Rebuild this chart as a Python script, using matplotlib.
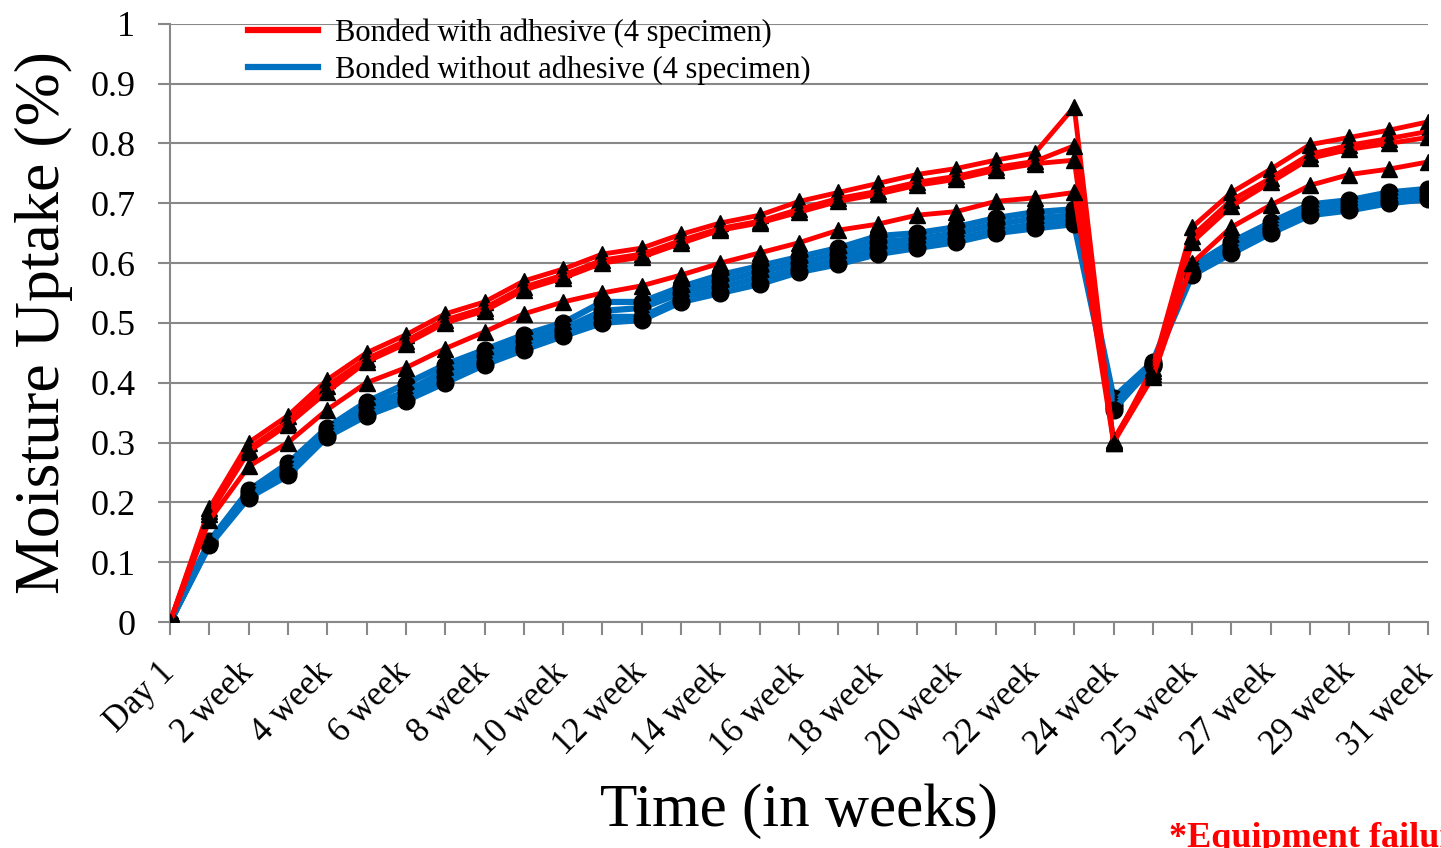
import matplotlib.pyplot as plt
import numpy as np


weeks = ["Day 1"] + [f"{i} week" for i in range(1, 25)] + ["24.5 week"] + [f"{i} week" for i in range(25, 32)]

# bonded with adhesive, 4 specimens
adh_1 = [0, 0.19, 0.30, 0.345, 0.405, 0.45, 0.48, 0.515, 0.535, 0.57, 0.59, 0.615, 0.625,
         0.648, 0.667, 0.68, 0.703, 0.718, 0.733, 0.748, 0.758, 0.772, 0.784, 0.861, 0.30,
         0.425, 0.66, 0.718, 0.757, 0.798, 0.81, 0.822, 0.836]
adh_2 = [0, 0.185, 0.29, 0.335, 0.395, 0.44, 0.47, 0.505, 0.525, 0.56, 0.58, 0.605, 0.615,
         0.638, 0.658, 0.67, 0.69, 0.708, 0.72, 0.735, 0.745, 0.76, 0.77, 0.796, 0.302,
         0.42, 0.645, 0.705, 0.742, 0.782, 0.797, 0.808, 0.82]
adh_3 = [0, 0.18, 0.285, 0.33, 0.385, 0.435, 0.465, 0.50, 0.52, 0.555, 0.575, 0.60, 0.61,
         0.633, 0.655, 0.667, 0.685, 0.703, 0.715, 0.73, 0.74, 0.755, 0.766, 0.772, 0.305,
         0.415, 0.635, 0.695, 0.735, 0.775, 0.79, 0.80, 0.81]
adh_4 = [0, 0.17, 0.26, 0.30, 0.355, 0.40, 0.425, 0.457, 0.485, 0.515, 0.535, 0.55, 0.562,
         0.58, 0.60, 0.617, 0.634, 0.655, 0.665, 0.68, 0.686, 0.703, 0.709, 0.718, 0.30,
         0.41, 0.60, 0.66, 0.697, 0.73, 0.748, 0.757, 0.769]

# bonded without adhesive, 4 specimens
noadh_1 = [0, 0.135, 0.22, 0.265, 0.325, 0.368, 0.398, 0.43, 0.455, 0.48, 0.50, 0.535, 0.535,
           0.56, 0.58, 0.595, 0.61, 0.625, 0.645, 0.65, 0.66, 0.675, 0.685, 0.69, 0.375,
           0.435, 0.595, 0.635, 0.668, 0.698, 0.705, 0.718, 0.724]
noadh_2 = [0, 0.132, 0.215, 0.258, 0.32, 0.36, 0.385, 0.42, 0.445, 0.47, 0.49, 0.52, 0.525,
           0.55, 0.57, 0.585, 0.60, 0.615, 0.635, 0.64, 0.65, 0.665, 0.675, 0.68, 0.365,
           0.432, 0.59, 0.63, 0.66, 0.692, 0.698, 0.712, 0.718]
noadh_3 = [0, 0.13, 0.21, 0.25, 0.315, 0.35, 0.375, 0.41, 0.435, 0.46, 0.485, 0.51, 0.51,
           0.54, 0.56, 0.575, 0.59, 0.605, 0.625, 0.632, 0.64, 0.655, 0.665, 0.672, 0.36,
           0.43, 0.585, 0.622, 0.655, 0.686, 0.693, 0.706, 0.712]
noadh_4 = [0, 0.128, 0.208, 0.245, 0.31, 0.345, 0.37, 0.40, 0.43, 0.455, 0.478, 0.50, 0.505,
           0.535, 0.55, 0.565, 0.585, 0.598, 0.615, 0.625, 0.635, 0.65, 0.658, 0.665, 0.355,
           0.428, 0.58, 0.616, 0.65, 0.68, 0.688, 0.70, 0.707]

adhesive = [adh_1, adh_2, adh_3, adh_4]
no_adhesive = [noadh_1, noadh_2, noadh_3, noadh_4]

plt.rcParams["font.family"] = ["Liberation Serif", "DejaVu Serif"]

x = np.arange(len(weeks))

fig = plt.figure(figsize=(14.41, 8.48), dpi=100)
ax = fig.add_axes([0.118, 0.2665, 0.873, 0.7055])

for i, s in enumerate(no_adhesive):
    ax.plot(x, s, color="#0070C0", linewidth=4.5, marker="o", markersize=12,
            markerfacecolor="black", markeredgecolor="black",
            label="Bonded without adhesive (4 specimen)" if i == 0 else None, zorder=3)
for i, s in enumerate(adhesive):
    ax.plot(x, s, color="#FF0000", linewidth=3.5, marker="^", markersize=12,
            markerfacecolor="black", markeredgecolor="black",
            label="Bonded with adhesive (4 specimen)" if i == 0 else None, zorder=4)

ax.set_xlim(0, len(weeks) - 1)
ax.set_ylim(0, 1)
ax.set_yticks(np.arange(0, 1.01, 0.1))
ax.set_yticklabels(["0", "0.1", "0.2", "0.3", "0.4", "0.5", "0.6", "0.7", "0.8", "0.9", "1"])
ax.set_xticks(x, minor=True)
ax.set_xticks(x[::2])
ax.set_xticklabels(weeks[::2], rotation=45, ha="right", va="center", rotation_mode="anchor")
ax.tick_params(axis="x", which="both", length=9, width=1.5, color="#888888",
               labelsize=25, pad=24)
ax.tick_params(axis="y", length=9, width=1.5, color="#888888", labelsize=26, pad=16)

ax.grid(axis="y", color="#888888", linewidth=1.5)
ax.set_axisbelow(True)
for side in ["top", "right"]:
    ax.spines[side].set_visible(False)
for side in ["left", "bottom"]:
    ax.spines[side].set_color("#888888")
    ax.spines[side].set_linewidth(1.5)

ax.set_ylabel("Moisture Uptake (%)", fontsize=46)
ax.yaxis.set_label_coords(-0.077, 0.5)
ax.set_xlabel("Time (in weeks)", fontsize=44)
ax.xaxis.set_label_coords(0.5, -0.27)

handles, labels = ax.get_legend_handles_labels()
leg = ax.legend(handles[::-1], labels[::-1], loc="upper left", bbox_to_anchor=(0.04, 1.055),
                frameon=False, fontsize=22, handlelength=2.3, handletextpad=0.55,
                labelspacing=0.25)
for line in leg.get_lines():
    line.set_marker("")
    line.set_linewidth(4.5)

# the note runs off the right edge in the original figure
fig.text(0.811, 0.031, "*Equipment failure", color="red", fontsize=26,
         fontweight="bold", va="top", ha="left")

fig.savefig("out.png", dpi=100)
